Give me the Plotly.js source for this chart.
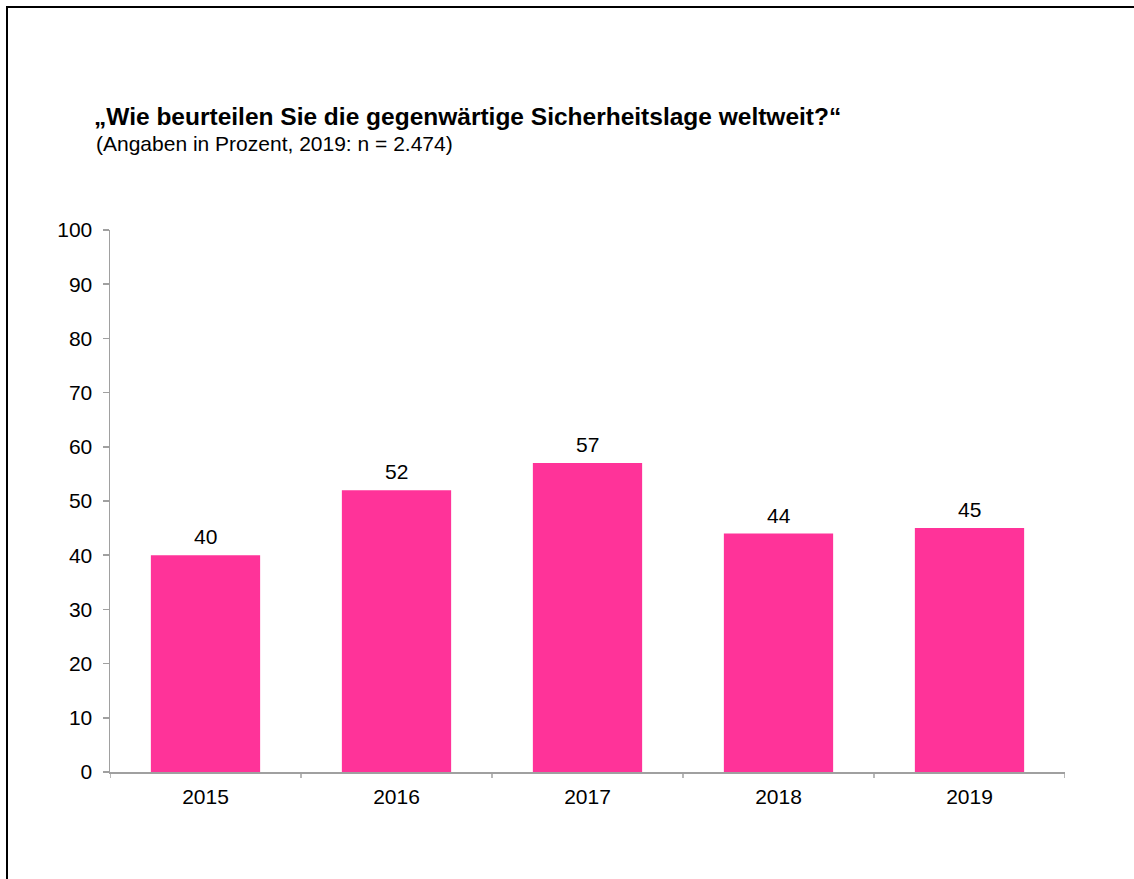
<!DOCTYPE html>
<html>
<head>
<meta charset="utf-8">
<script src="https://cdn.plot.ly/plotly-3.0.1.min.js"></script>
<style>
  html, body { margin: 0; padding: 0; background: #ffffff; }
  #wrap { position: relative; width: 1134px; height: 879px; overflow: hidden; }
  #frame { position: absolute; left: 6px; top: 6px; width: 1200px; height: 1000px;
           border-left: 2px solid #000; border-top: 2px solid #000; pointer-events: none; }
  #chart { position: absolute; left: 0; top: 0; width: 1134px; height: 879px; }
</style>
</head>
<body>
<div id="wrap">
  <div id="chart"></div>
  <div id="frame"></div>
</div>
<script>
const years = ['2015', '2016', '2017', '2018', '2019'];
const values = [40, 52, 57, 44, 45];
const yTicks = [0, 10, 20, 30, 40, 50, 60, 70, 80, 90, 100];
const titleText = '<b>„Wie beurteilen Sie die gegenwärtige Sicherheitslage weltweit?“</b>';
const subtitleText = '(Angaben in Prozent, 2019: n = 2.474)';

const FONT = 'Liberation Sans, Arial, sans-serif';
const W = 1134, H = 879;
const L = 110, R = 1065, T = 230, B = 772;

const trace = {
  type: 'bar',
  x: years,
  y: values,
  marker: { color: '#FF3399', line: { width: 0 } },
  hoverinfo: 'x+y'
};

// value labels: placed on the category index of each bar
const valueLabels = years.map((yr, i) => ({
  x: i, y: values[i], xref: 'x', yref: 'y',
  text: String(values[i]),
  showarrow: false, xanchor: 'center', yanchor: 'bottom',
  yshift: 5,
  font: { family: FONT, size: 21, color: '#000' }
}));

const layout = {
  width: W, height: H,
  paper_bgcolor: '#ffffff', plot_bgcolor: '#ffffff',
  margin: { l: L, r: W - R, t: T, b: H - B, pad: 0 },
  showlegend: false,
  bargap: 0.428,
  font: { family: FONT, size: 21, color: '#000' },
  title: {
    text: titleText,
    xref: 'container', yref: 'container',
    x: 94 / W, xanchor: 'left',
    y: 1 - 116 / H, yanchor: 'middle',
    font: { family: FONT, size: 24.5, color: '#000' }
  },
  annotations: [{
    text: subtitleText,
    xref: 'paper', yref: 'paper',
    x: (94 - L) / (R - L), xanchor: 'left',
    y: (B - 144) / (B - T), yanchor: 'middle',
    showarrow: false,
    font: { family: FONT, size: 21, color: '#000' }
  }].concat(valueLabels),
  xaxis: {
    type: 'category',
    categoryarray: years, categoryorder: 'array',
    range: [-0.5, years.length - 0.5],
    showline: true, linecolor: '#a0a0a0', linewidth: 1.5,
    showgrid: false, zeroline: false,
    ticks: '', tickfont: { family: FONT, size: 21, color: '#000' },
    ticklabelstandoff: 5
  },
  yaxis: {
    range: [0, 100],
    tickvals: yTicks,
    showline: true, linecolor: '#a0a0a0', linewidth: 1.5,
    showgrid: false, zeroline: false,
    ticks: 'outside', ticklen: 6, tickcolor: '#a0a0a0', tickwidth: 1.5,
    tickfont: { family: FONT, size: 21, color: '#000' },
    ticklabelstandoff: 6
  },
  shapes: years.concat(['']).map((_, i) => ({
    type: 'line', xref: 'x', yref: 'paper',
    x0: i - 0.5, x1: i - 0.5, y0: 0, y1: -6 / (B - T),
    line: { color: '#a0a0a0', width: 1.5 }
  }))
};

Plotly.newPlot('chart', [trace], layout, { displayModeBar: false, staticPlot: true });
</script>
</body>
</html>
